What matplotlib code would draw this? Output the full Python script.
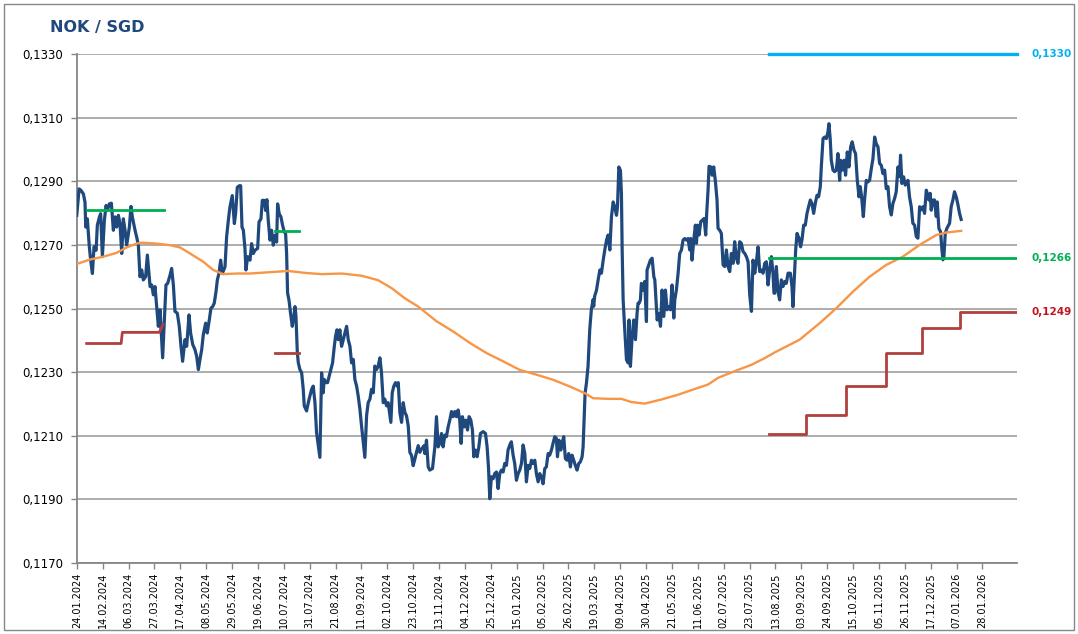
import numpy as np
import pandas as pd
import matplotlib
matplotlib.use("Agg")
import matplotlib.pyplot as plt
from matplotlib.patches import Rectangle

# --- data ---
start = pd.Timestamp("2024-01-24")
x_end = pd.Timestamp("2026-02-25")

tick_labels = ["24.01.2024", "14.02.2024", "06.03.2024", "27.03.2024", "17.04.2024",
               "08.05.2024", "29.05.2024", "19.06.2024", "10.07.2024", "31.07.2024",
               "21.08.2024", "11.09.2024", "02.10.2024", "23.10.2024", "13.11.2024",
               "04.12.2024", "25.12.2024", "15.01.2025", "05.02.2025", "26.02.2025",
               "19.03.2025", "09.04.2025", "30.04.2025", "21.05.2025", "11.06.2025",
               "02.07.2025", "23.07.2025", "13.08.2025", "03.09.2025", "24.09.2025",
               "15.10.2025", "05.11.2025", "26.11.2025", "17.12.2025", "07.01.2026",
               "28.01.2026"]
y_ticks = [0.1170, 0.1190, 0.1210, 0.1230, 0.1250, 0.1270, 0.1290, 0.1310, 0.1330]

# NOK/SGD spot, days after 24.01.2024
spot_day = [0, 1.9, 3.5, 5.4, 6.7, 7.3, 8.6, 10.2, 11.3, 12.7, 14.0, 15.7, 16.7, 18.4, 19.4,
            20.8, 22.4, 23.8, 24.8, 26.5, 28.1, 29.7, 31.1, 32.4, 33.8, 35.1, 36.5, 37.8,
            39.2, 40.5, 42.7, 44.0, 45.1, 47.3, 48.6, 50.0, 51.3, 52.7, 54.0, 55.9, 57.3,
            58.6, 59.5, 60.8, 62.2, 63.5, 64.9, 66.2, 67.6, 68.9, 69.7, 71.1, 72.4, 73.8,
            75.7, 77.0, 78.4, 79.7, 81.6, 83.2, 84.6, 85.9, 87.8, 89.2, 91.1, 92.4, 94.1,
            95.9, 97.3, 98.7, 100.0, 101.4, 102.7, 104.6, 105.9, 107.6, 108.9, 110.3, 111.6,
            113.0, 114.1, 115.4, 116.8, 118.1, 120.3, 121.6, 123.0, 124.3, 126.2, 127.9,
            128.9, 130.3, 131.9, 133.0, 134.1, 135.2, 136.5, 137.3, 138.7,
            140.6, 141.9, 143.3, 144.6, 146.8, 147.9, 149.5, 150.6, 152.2, 153.3, 154.3,
            155.4, 156.8, 158.1, 159.5, 160.8, 162.2, 163.0, 164.3, 165.7, 167.0, 168.4,
            169.5, 170.3, 171.1, 172.2, 173.5, 174.9, 176.2, 177.1, 177.9, 179.0, 179.8,
            181.1, 182.5, 183.8, 184.6, 186.5, 187.9, 189.2, 190.6, 191.9, 193.3, 194.6,
            196.0, 197.3, 198.7, 200.0, 200.8, 202.2, 203.5, 204.9, 206.2, 207.6, 209.0,
            210.0, 211.1, 212.2, 213.5, 214.9, 216.3, 217.6, 219.0, 220.3, 221.7, 223.0,
            224.4, 225.7, 227.1, 228.4, 229.8, 231.1, 232.5, 233.8, 235.2, 236.5, 237.9,
            239.2, 240.6, 241.9, 243.3, 244.6, 246.0, 247.3, 248.7, 250.0, 251.4, 252.7,
            254.1, 254.9, 256.0, 257.3, 258.7, 260.0, 260.9, 262.2, 263.6, 264.9, 266.3,
            267.6, 269.0, 270.3, 271.7, 273.0, 274.4, 275.7, 277.1, 278.4, 279.8, 281.9,
            282.5, 283.8, 285.2, 286.5, 288.7, 290.6, 291.9, 293.3, 294.6, 296.0, 297.3,
            298.7, 300.0, 301.4, 302.7, 304.1, 305.4, 306.8, 308.1, 309.5, 310.8, 311.9,
            313.0, 314.4, 315.7, 317.1, 318.4, 319.8, 321.1, 322.2, 323.5, 324.9, 326.3,
            327.6, 329.8, 331.7, 333.0, 334.1, 335.2, 336.5, 337.9, 339.2, 340.6, 341.9,
            343.3, 344.6, 346.0, 347.3, 348.7, 350.0, 351.4, 352.7, 354.1, 355.4, 356.8,
            358.2, 359.5, 360.9, 362.2, 363.6, 364.9, 366.3, 367.6, 369.0, 370.3, 371.7,
            373.0, 374.4, 375.7, 377.1, 378.4, 379.8, 381.1, 382.5, 383.8, 385.2, 386.5,
            387.9, 389.2, 390.1, 391.4, 392.8, 394.1, 395.2, 396.5, 397.9, 399.2, 400.6,
            401.9, 403.3, 404.6, 406.0, 407.4, 408.7, 410.1, 410.9, 411.7, 412.5, 413.6,
            414.9, 416.3, 417.6, 419.0, 419.5, 420.3, 421.8, 423.1,
            424.5, 425.8, 427.2, 428.5, 429.9, 431.2, 432.6, 433.9, 435.3, 436.6, 438.0,
            438.8, 439.9, 441.2, 442.0, 442.6, 443.4, 444.7, 446.1, 447.4, 448.2, 449.3,
            450.7, 452.0, 453.4, 454.7, 455.5, 456.4, 457.4, 458.2, 459.6, 460.9, 462.3,
            462.8, 464.2, 465.5, 466.9, 468.3, 469.1, 469.9, 471.0, 472.3, 473.7, 475.0,
            476.4, 477.7, 479.1, 480.4, 481.8, 483.1, 484.5, 485.3, 486.6, 488.0, 489.3,
            490.7, 492.0, 493.4, 494.7, 496.1, 497.4, 498.3, 499.3, 500.7, 502.0, 502.9,
            503.7, 505.0, 506.4, 507.7, 509.1, 510.4, 511.2, 512.3, 513.1, 514.5, 515.6,
            516.9, 518.3, 519.6, 520.4, 521.8, 523.1, 524.5, 525.8, 527.2, 528.5, 529.9,
            531.2, 532.6, 533.9, 535.3, 536.6, 538.0, 539.3, 540.7, 542.1, 543.4, 544.8,
            546.1, 547.5, 548.8, 550.2, 551.5, 552.9, 554.2, 555.6, 556.9, 558.3, 559.6,
            561.0, 562.3, 563.7, 565.0, 565.8,
            566.4, 567.7, 569.1, 570.4, 571.8, 573.1, 574.5, 575.8, 577.2, 579.1, 580.4,
            581.2, 582.6, 583.4, 584.5, 586.1, 587.4, 588.5, 589.9, 591.2, 592.6, 593.9,
            595.3, 596.6, 598.0, 599.3, 600.7, 602.0, 603.4, 604.2, 605.6, 606.9, 608.3,
            609.6, 610.4, 611.5, 612.3, 613.7, 615.0, 616.4, 617.7, 619.1, 619.9, 621.2,
            622.6, 623.9, 625.3, 626.6, 628.0, 629.3, 630.7, 632.0, 633.4, 634.8, 635.8,
            636.9, 638.3, 639.3, 640.7, 642.1, 643.4, 644.8, 646.1, 647.5, 648.8, 650.2,
            651.5, 652.9, 654.2, 655.6, 656.9, 658.3, 659.6, 661.0, 662.3, 663.7, 665.0,
            666.4, 667.7, 668.5, 669.6, 671.0, 672.3, 673.7, 674.5, 675.8, 677.2, 678.5,
            679.9, 681.3, 682.6, 684.0, 685.3, 686.7, 688.0, 689.4, 690.7, 691.5, 692.6,
            693.4, 694.8, 696.1, 697.5, 698.3, 699.6, 701.0, 702.1, 702.9, 703.7, 704.8,
            706.1, 707.5, 708.3, 709.6, 711.0, 712.3, 713.7, 715.0, 716.4, 717.7]
spot = [0.12793, 0.12876, 0.12871, 0.12860, 0.12834, 0.12756, 0.12782, 0.12694, 0.12652,
        0.12610, 0.12694, 0.12683, 0.12762, 0.12788, 0.12798, 0.12663, 0.12777, 0.12824,
        0.12808, 0.12829, 0.12831, 0.12746, 0.12788, 0.12756, 0.12793, 0.12767, 0.12673,
        0.12782, 0.12746, 0.12699, 0.12756, 0.12821, 0.12788, 0.12746, 0.12725, 0.12699,
        0.12600, 0.12621, 0.12590, 0.12600, 0.12668, 0.12610, 0.12569, 0.12574, 0.12543,
        0.12569, 0.12506, 0.12444, 0.12496, 0.12402, 0.12345, 0.12465, 0.12574, 0.12579,
        0.12605, 0.12626, 0.12574, 0.12491, 0.12485, 0.12444, 0.12381, 0.12334, 0.12402,
        0.12381, 0.12480, 0.12423, 0.12387, 0.12371, 0.12350, 0.12308, 0.12340, 0.12371,
        0.12418, 0.12454, 0.12423, 0.12465, 0.12501, 0.12506, 0.12517, 0.12553, 0.12590,
        0.12610, 0.12652, 0.12610, 0.12631, 0.12725, 0.12777, 0.12819, 0.12855, 0.12767,
        0.12798, 0.12881, 0.12886, 0.12886, 0.12756, 0.12746, 0.12689, 0.12621, 0.12663,
        0.12652, 0.12704, 0.12673, 0.12683, 0.12689, 0.12772, 0.12782, 0.12840, 0.12840,
        0.12808, 0.12842, 0.12777, 0.12715, 0.12746, 0.12699, 0.12730, 0.12709, 0.12829,
        0.12798, 0.12788, 0.12762, 0.12741, 0.12735, 0.12673, 0.12548, 0.12527, 0.12485,
        0.12444, 0.12475, 0.12506, 0.12475, 0.12361, 0.12329, 0.12308, 0.12298, 0.12246,
        0.12194, 0.12178, 0.12204, 0.12225, 0.12246, 0.12256, 0.12204, 0.12110, 0.12069,
        0.12032, 0.12298, 0.12235, 0.12277, 0.12267, 0.12267, 0.12288, 0.12308, 0.12329,
        0.12381, 0.12412, 0.12433, 0.12402, 0.12433, 0.12381, 0.12402, 0.12423, 0.12444,
        0.12402, 0.12381, 0.12329, 0.12340, 0.12277, 0.12256, 0.12225, 0.12183, 0.12131,
        0.12079, 0.12032, 0.12163, 0.12204, 0.12215, 0.12246, 0.12235, 0.12319, 0.12308,
        0.12319, 0.12345, 0.12298, 0.12204, 0.12215, 0.12194, 0.12204, 0.12163, 0.12142,
        0.12235, 0.12256, 0.12267, 0.12256, 0.12267, 0.12173, 0.12142, 0.12204, 0.12173,
        0.12163, 0.12131, 0.12048, 0.12038, 0.12006, 0.12027, 0.12048, 0.12069, 0.12048,
        0.12058, 0.12069,
        0.12044, 0.12086, 0.12002, 0.11992, 0.11997, 0.12065, 0.12160, 0.12065, 0.12076,
        0.12107, 0.12065, 0.12102, 0.12097, 0.12128, 0.12149, 0.12176, 0.12160, 0.12176,
        0.12160, 0.12181, 0.12149, 0.12076, 0.12160, 0.12128, 0.12149, 0.12118, 0.12160,
        0.12149, 0.12118, 0.12034, 0.12055, 0.12034, 0.12065, 0.12107, 0.12113, 0.12107,
        0.12065, 0.12002, 0.11902, 0.11971, 0.11965, 0.11981, 0.11986, 0.11934, 0.11981,
        0.11992, 0.11986, 0.12013, 0.12007, 0.12055, 0.12071, 0.12081, 0.12039, 0.12013,
        0.11960, 0.11981, 0.11992, 0.12013, 0.12071, 0.12044, 0.11955, 0.12007, 0.11997,
        0.12023, 0.12013, 0.12023, 0.11981, 0.11955, 0.11981, 0.11971, 0.11949, 0.11997,
        0.12002, 0.12044, 0.12039, 0.12055, 0.12076, 0.12097, 0.12092, 0.12034, 0.12086,
        0.12055, 0.12081, 0.12097, 0.12028, 0.12023, 0.12044, 0.12002, 0.12039, 0.12023,
        0.12007, 0.11992, 0.12013, 0.12018, 0.12034, 0.12065, 0.12151, 0.12234, 0.12265,
        0.12318, 0.12434, 0.12497, 0.12528, 0.12507, 0.12539, 0.12558, 0.12590,
        0.12621, 0.12611, 0.12652, 0.12684, 0.12715, 0.12731, 0.12684, 0.12788, 0.12835,
        0.12819, 0.12793, 0.12819, 0.12945, 0.12934, 0.12861, 0.12684, 0.12527, 0.12433,
        0.12339, 0.12329, 0.12464, 0.12318, 0.12412, 0.12464, 0.12402, 0.12485, 0.12517,
        0.12517, 0.12527, 0.12579, 0.12558, 0.12585, 0.12459, 0.12621, 0.12637, 0.12652,
        0.12658, 0.12600, 0.12590, 0.12537, 0.12464, 0.12485, 0.12444, 0.12558, 0.12475,
        0.12558, 0.12496, 0.12506, 0.12496, 0.12574, 0.12470, 0.12527, 0.12558, 0.12611,
        0.12673, 0.12684, 0.12715, 0.12720, 0.12715, 0.12720, 0.12684, 0.12720, 0.12652,
        0.12715, 0.12762, 0.12705, 0.12762, 0.12731, 0.12773, 0.12778, 0.12783, 0.12731,
        0.12799, 0.12872, 0.12947, 0.12945, 0.12919, 0.12945, 0.12898, 0.12840, 0.12752,
        0.12746, 0.12736, 0.12637, 0.12632, 0.12684, 0.12632, 0.12616, 0.12673, 0.12642,
        0.12710, 0.12658, 0.12642, 0.12710, 0.12705, 0.12679, 0.12673, 0.12663, 0.12647,
        0.12543, 0.12491, 0.12652, 0.12611, 0.12647, 0.12694, 0.12616, 0.12621, 0.12611,
        0.12642, 0.12647, 0.12574, 0.12621, 0.12663, 0.12611, 0.12548,
        0.12548, 0.12632, 0.12553, 0.12527, 0.12590, 0.12569, 0.12585, 0.12579, 0.12611,
        0.12611, 0.12569, 0.12506, 0.12621, 0.12684, 0.12736, 0.12721, 0.12694, 0.12715,
        0.12762, 0.12762, 0.12799, 0.12820, 0.12841, 0.12830, 0.12799, 0.12830, 0.12856,
        0.12851, 0.12883, 0.12945, 0.13034, 0.13039, 0.13034, 0.13055, 0.13081, 0.13029,
        0.12966, 0.12935, 0.12930, 0.12935, 0.12987, 0.12903, 0.12966, 0.12935, 0.12966,
        0.12919, 0.12992, 0.12945, 0.13008, 0.13024, 0.12998, 0.12987, 0.12903, 0.12851,
        0.12883, 0.12851, 0.12789, 0.12841, 0.12903, 0.12898, 0.12903, 0.12940, 0.12971,
        0.13039, 0.13018, 0.13008, 0.12956, 0.12950, 0.12924, 0.12935, 0.12877, 0.12883,
        0.12820, 0.12794, 0.12830, 0.12846, 0.12867, 0.12945, 0.12914, 0.12982, 0.12893,
        0.12914, 0.12888, 0.12893, 0.12903, 0.12851, 0.12820, 0.12768, 0.12762, 0.12726,
        0.12721, 0.12820, 0.12810, 0.12820, 0.12799, 0.12872, 0.12856, 0.12841, 0.12862,
        0.12809, 0.12841, 0.12841, 0.12789, 0.12835, 0.12752, 0.12741, 0.12684, 0.12653,
        0.12663, 0.12736, 0.12752, 0.12762, 0.12768, 0.12820, 0.12841, 0.12867, 0.12851,
        0.12828, 0.12799, 0.12780]

# 200-day moving average (orange)
ma_day = [0, 10.8, 21.6, 32.4, 40.5, 48.6, 52.7, 64.9, 75.7, 83.8, 91.9, 102.7, 110.8,
          118.9, 129.7, 140.6, 171.6, 185.2, 198.7, 214.9, 231.1, 244.6, 255.5, 266.3,
          277.1, 291.9, 305.4, 318.9, 332.5, 346.0, 359.5, 373.0, 386.5, 400.0, 412.2,
          419.0, 431.2, 442.0, 450.1, 460.9, 474.5, 488.0, 501.5, 512.3, 520.4, 533.9,
          547.5, 558.3, 566.4, 586.6, 602.9, 616.4, 629.9, 643.4, 656.9, 670.4, 684.0,
          697.5, 705.6, 717.7]
ma = [0.12640, 0.12654, 0.12663, 0.12675, 0.12692, 0.12704, 0.12707, 0.12704, 0.12699,
      0.12692, 0.12673, 0.12647, 0.12621, 0.12608, 0.12610, 0.12610, 0.12618, 0.12612,
      0.12608, 0.12610, 0.12603, 0.12589, 0.12564, 0.12532, 0.12506, 0.12460, 0.12428,
      0.12392, 0.12360, 0.12334, 0.12307, 0.12292, 0.12276, 0.12255, 0.12234, 0.12218,
      0.12216, 0.12216, 0.12206, 0.12201, 0.12214, 0.12229, 0.12247, 0.12261, 0.12282,
      0.12303, 0.12323, 0.12344, 0.12362, 0.12402, 0.12454, 0.12501, 0.12553, 0.12600,
      0.12637, 0.12663, 0.12700, 0.12731, 0.12739, 0.12744]

# old targets / stops
green_a_dates = ["2024-02-01", "2024-04-04"]
green_a = [0.1281, 0.1281]
green_b_dates = ["2024-07-03", "2024-07-22"]
green_b = [0.12744, 0.12744]
red_a_dates = ["2024-02-01", "2024-02-29", "2024-03-01", "2024-03-31", "2024-04-03"]
red_a = [0.1239, 0.1239, 0.12425, 0.12425, 0.1245]
red_b_dates = ["2024-07-03", "2024-07-22"]
red_b = [0.12361, 0.12361]

# current levels
level_dates = ["2025-08-08", "2026-02-25"]
cyan_level = 0.1330
green_level = 0.1266
stop_dates = ["2025-08-08", "2025-09-07", "2025-10-09", "2025-11-11", "2025-12-10",
              "2026-01-10", "2026-02-25"]
stop = [0.12105, 0.12165, 0.12256, 0.12360, 0.12440, 0.12490, 0.12490]

BLUE = "#1F497D"
ORANGE = "#F79646"
GREEN = "#00B050"
CYAN = "#00B0F0"
RED = "#B0403C"


def to_dates(days):
    return start + pd.to_timedelta(np.array(days), unit="D")


fig = plt.figure(figsize=(10.78, 6.34), dpi=100)
ax = fig.add_axes([0.0712, 0.112, 0.8722, 0.8028])

ax.plot(to_dates(spot_day), spot, color=BLUE, lw=2.3, zorder=3)
ax.plot(to_dates(ma_day), ma, color=ORANGE, lw=1.7, zorder=4)

ax.plot(pd.to_datetime(green_a_dates), green_a, color=GREEN, lw=2.0, zorder=5)
ax.plot(pd.to_datetime(green_b_dates), green_b, color=GREEN, lw=2.0, zorder=5)
ax.plot(pd.to_datetime(red_a_dates), red_a, color=RED, lw=2.0, zorder=5)
ax.plot(pd.to_datetime(red_b_dates), red_b, color=RED, lw=2.0, zorder=5)

lv = pd.to_datetime(level_dates)
ax.plot(lv, [cyan_level] * 2, color=CYAN, lw=2.4, zorder=5, clip_on=False)
ax.plot(lv, [green_level] * 2, color=GREEN, lw=2.0, zorder=5)
ax.step(pd.to_datetime(stop_dates), stop, where="post", color=RED, lw=2.0, zorder=5)

lab = dict(transform=ax.get_yaxis_transform(), fontsize=7.5, fontweight="bold",
           va="center", ha="left")
ax.text(1.015, cyan_level, "0,1330", color=CYAN, **lab)
ax.text(1.015, green_level, "0,1266", color=GREEN, **lab)
ax.text(1.015, stop[-1], "0,1249", color="#C0171C", **lab)

ax.set_xlim(start, x_end)
ax.set_ylim(0.1170, 0.1330)
ax.set_yticks(y_ticks)
ax.set_yticklabels([f"{v:.4f}".replace(".", ",") for v in y_ticks], fontsize=8.5)
xt = pd.to_datetime(tick_labels, format="%d.%m.%Y")
ax.set_xticks(xt)
ax.set_xticklabels(tick_labels, rotation=90, fontsize=7)
ax.tick_params(axis="both", length=4, color="#868686", width=1)
ax.tick_params(axis="x", pad=3)
ax.tick_params(axis="y", pad=6)

ax.grid(axis="y", color="#A6A6A6", lw=1.3)
ax.set_axisbelow(True)
for s in ["top", "right"]:
    ax.spines[s].set_visible(False)
for s in ["left", "bottom"]:
    ax.spines[s].set_color("#868686")
    ax.spines[s].set_linewidth(1.3)

fig.text(0.046, 0.957, "NOK / SGD", fontsize=11.5, fontweight="bold", color=BLUE,
         ha="left", va="center")
fig.patches.append(Rectangle((0.004, 0.006), 0.992, 0.988, transform=fig.transFigure,
                             fill=False, edgecolor="#888888", lw=1.0))

fig.savefig("out.png", dpi=100)
